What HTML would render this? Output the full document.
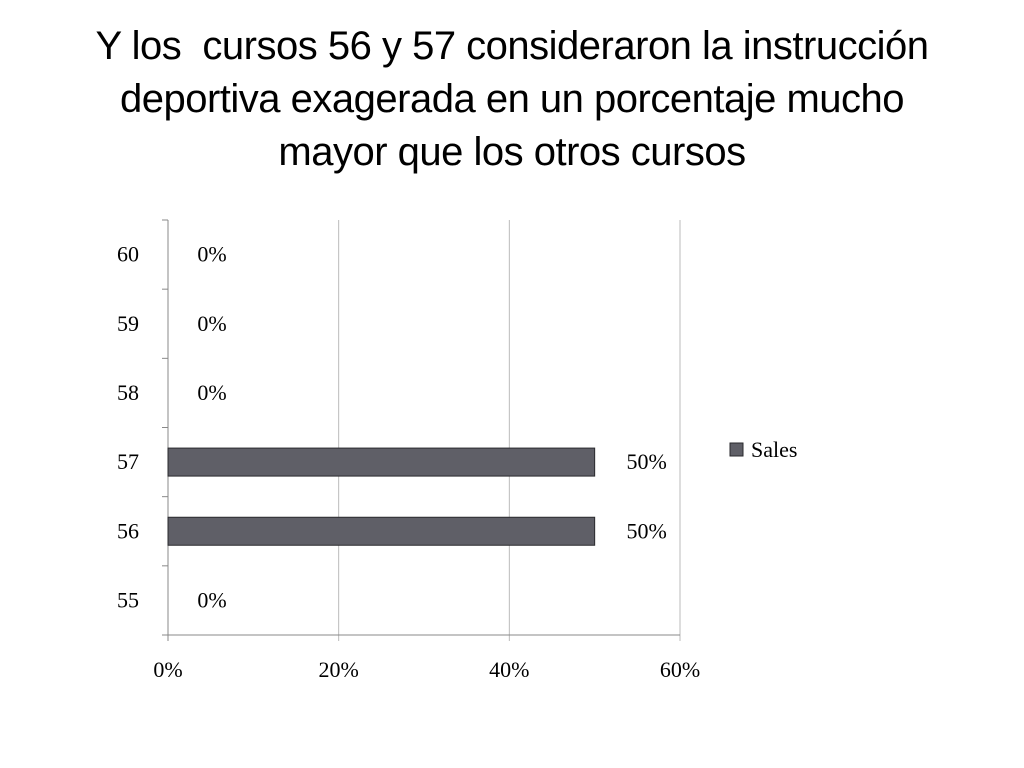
<!DOCTYPE html>
<html><head><meta charset="utf-8"><style>
body{margin:0;background:#fff;width:1024px;height:768px;overflow:hidden}
#title{position:absolute;left:0;top:20px;width:1024px;text-align:center;font-family:"Liberation Sans",sans-serif;font-size:40px;line-height:53px;color:#000;letter-spacing:-0.5px}
</style></head><body>
<div id="title">Y los&nbsp; cursos 56 y 57 consideraron la instrucción<br>deportiva exagerada en un porcentaje mucho<br>mayor que los otros cursos</div>
<svg id="c" width="1024" height="768" style="position:absolute;left:0;top:0"></svg>
<script>
const categories=["60","59","58","57","56","55"];
const values=[0,0,0,50,50,0];
const valueLabels=["0%","0%","0%","50%","50%","0%"];
const xTicks=[0,20,40,60];
const xTickLabels=["0%","20%","40%","60%"];
const svg=document.getElementById('c');const NS='http://www.w3.org/2000/svg';
const L=168,R=680,T=220,B=635;
const x=v=>L+(v/60)*(R-L);
const band=(B-T)/categories.length;
const y=i=>T+i*band;
function el(t,a,p){const e=document.createElementNS(NS,t);for(const k in a)e.setAttribute(k,a[k]);(p||svg).appendChild(e);return e;}
xTicks.forEach((t,i)=>{
 const g=el('line',{x1:x(t),x2:x(t),y1:T,y2:B+6,stroke:i==0?'#888':'#bbb','stroke-width':1});
 
 
 const tx=el('text',{x:x(t),y:677,'text-anchor':'middle','font-family':'Liberation Serif,serif','font-size':22});
 tx.textContent=xTickLabels[i];
 
 
});
const ax=el('line',{x1:L,x2:R,y1:B,y2:B,stroke:'#888'});


for(let i=0;i<=categories.length;i++){
 const tk=el('line',{x1:L-6,x2:L,y1:y(i),y2:y(i),stroke:'#888'});
 
 
}
categories.forEach((c,i)=>{
 const cy=y(i)+band/2;
 const t=el('text',{x:128,y:cy+7,'text-anchor':'middle','font-family':'Liberation Serif,serif','font-size':22});
 t.textContent=c;
 
 
 if(values[i]>0){
  const r=el('rect',{x:L,y:cy-14,width:x(values[i])-L,height:28,fill:'#5f5f67',stroke:'#2a2a2e','stroke-width':1});
  
  
 }
 const lb=el('text',{x:x(values[i])+(values[i]>0?52:44),y:cy+7,'text-anchor':'middle','font-family':'Liberation Serif,serif','font-size':22});
 lb.textContent=valueLabels[i];
 
 
});
const lr=el('rect',{x:730,y:443,width:13,height:13,fill:'#5f5f67',stroke:'#2a2a2e'});


const lt=el('text',{x:751,y:457,'font-family':'Liberation Serif,serif','font-size':22});
lt.textContent='Sales';


</script>
</body></html>
